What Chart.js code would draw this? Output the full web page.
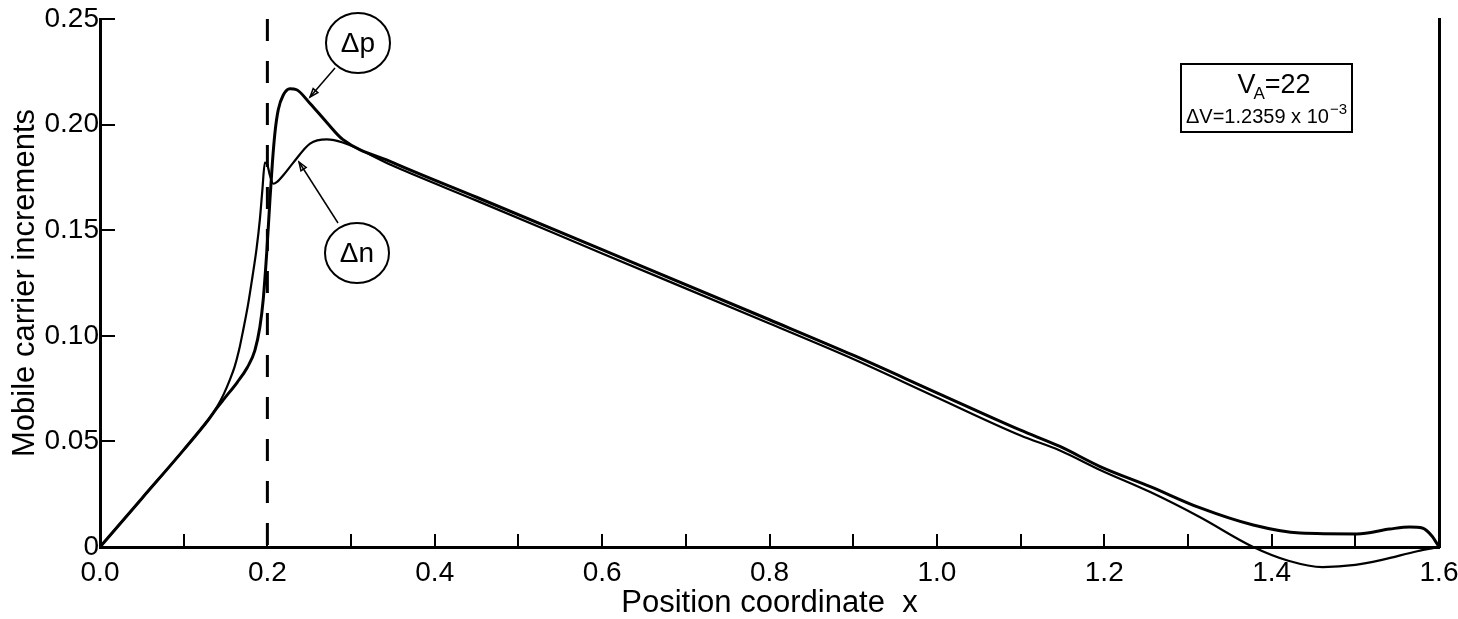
<!DOCTYPE html>
<html>
<head>
<meta charset="utf-8">
<script src="https://cdn.jsdelivr.net/npm/chart.js@4"></script>
<style>
  html, body { margin: 0; padding: 0; background: #fff; }
  #chart { display: block; }
</style>
</head>
<body>
<canvas id="chart" width="1458" height="619"></canvas>
<script>
// values
const xTickLabels = ['0.0', '0.2', '0.4', '0.6', '0.8', '1.0', '1.2', '1.4', '1.6'];
const yTickLabels = ['0', '0.05', '0.10', '0.15', '0.20', '0.25'];

// hole increment (the one with the higher peak)
const pX = [0, 0.05, 0.10, 0.13, 0.14, 0.149, 0.164, 0.176, 0.185, 0.191, 0.195, 0.1995, 0.203, 0.206, 0.209, 0.213, 0.219,
  0.227, 0.235, 0.251, 0.271, 0.29, 0.35, 0.45, 0.6, 0.8, 0.9, 1.0, 1.1, 1.147, 1.195, 1.255, 1.314,
  1.378, 1.434, 1.502, 1.541, 1.565, 1.58, 1.592, 1.6];
const pY = [0, 0.023, 0.046, 0.0605, 0.066, 0.0705, 0.078, 0.085, 0.093, 0.104, 0.117, 0.141, 0.164, 0.182, 0.196, 0.207, 0.214,
  0.217, 0.2165, 0.210, 0.201, 0.193, 0.182, 0.1656, 0.1408, 0.1076, 0.0908, 0.073, 0.0553, 0.0476, 0.0381, 0.0286, 0.0186,
  0.0104, 0.0066, 0.0062, 0.0085, 0.0095, 0.009, 0.005, 0];

// electron increment
const nX = [0, 0.05, 0.10, 0.13, 0.14, 0.148, 0.155, 0.161, 0.166, 0.171, 0.177, 0.182, 0.187, 0.191, 0.194, 0.197, 0.200,
  0.203, 0.207, 0.212, 0.219, 0.231, 0.251, 0.271, 0.29, 0.35, 0.45, 0.6, 0.8, 0.9, 1.0, 1.1, 1.147,
  1.195, 1.255, 1.314, 1.378, 1.42, 1.461, 1.5, 1.533, 1.574, 1.6];
const nY = [0, 0.023, 0.046, 0.0605, 0.0665, 0.0725, 0.079, 0.0855, 0.093, 0.1025, 0.115, 0.1275, 0.141, 0.155, 0.169, 0.182, 0.181,
  0.176, 0.172, 0.173, 0.176, 0.182, 0.191, 0.193, 0.1915, 0.1805, 0.164, 0.139, 0.1058, 0.089, 0.0708, 0.0528, 0.0457,
  0.0365, 0.026, 0.0142, 0, -0.0065, -0.0095, -0.0085, -0.006, -0.002, 0];

// junction position (dashed line)
const junctionX = 0.2;
const junctionY = [0.25, 0];

const VA = '22';
const dV = '1.2359';

const FONT = "'Liberation Sans', Arial, sans-serif";
Chart.defaults.font.family = FONT;
Chart.defaults.color = '#000';

const toPts = (xs, ys) => xs.map((v, i) => ({x: v, y: ys[i]}));

// circled labels, leader arrows and the parameter box
const notes = {
  id: 'notes',
  afterDraw(chart) {
    const ctx = chart.ctx;
    ctx.save();
    ctx.strokeStyle = '#000';
    ctx.fillStyle = '#000';
    ctx.lineWidth = 2;

    const bubble = (cx, cy, txt) => {
      ctx.beginPath();
      ctx.ellipse(cx, cy, 32, 30, 0, 0, Math.PI * 2);
      ctx.stroke();
      ctx.font = '28px ' + FONT;
      ctx.textAlign = 'center';
      ctx.textBaseline = 'middle';
      ctx.fillText(txt, cx, cy + 1);
    };
    const arrow = (x1, y1, x2, y2) => {
      ctx.lineWidth = 1.5;
      ctx.beginPath();
      ctx.moveTo(x1, y1);
      ctx.lineTo(x2, y2);
      ctx.stroke();
      const a = Math.atan2(y2 - y1, x2 - x1);
      ctx.beginPath();
      ctx.moveTo(x2, y2);
      ctx.lineTo(x2 - 9 * Math.cos(a - 0.35), y2 - 9 * Math.sin(a - 0.35));
      ctx.lineTo(x2 - 9 * Math.cos(a + 0.35), y2 - 9 * Math.sin(a + 0.35));
      ctx.closePath();
      ctx.stroke();
      ctx.lineWidth = 2;
    };

    bubble(358, 43, 'Δp');
    arrow(335, 68, 310, 97);
    bubble(357, 253, 'Δn');
    arrow(338, 223, 299, 162);

    // parameter box
    ctx.strokeRect(1181, 64, 171, 68);
    ctx.textAlign = 'left';
    ctx.textBaseline = 'alphabetic';
    ctx.font = '27px ' + FONT;
    const wV = ctx.measureText('V').width;
    ctx.font = '17px ' + FONT;
    const wA = ctx.measureText('A').width;
    ctx.font = '27px ' + FONT;
    const wR = ctx.measureText('=' + VA).width;
    let sx = 1275 - (wV + wA + wR) / 2;
    ctx.fillText('V', sx, 93);
    ctx.font = '17px ' + FONT;
    ctx.fillText('A', sx + wV - 2, 99);
    ctx.font = '27px ' + FONT;
    ctx.fillText('=' + VA, sx + wV + wA - 2, 93);

    ctx.font = '20px ' + FONT;
    const base = 'ΔV=' + dV + ' x 10';
    const wB = ctx.measureText(base).width;
    ctx.font = '15px ' + FONT;
    const wE = ctx.measureText('−3').width;
    sx = 1266 - (wB + wE) / 2;
    ctx.font = '20px ' + FONT;
    ctx.fillText(base, sx, 123);
    ctx.font = '15px ' + FONT;
    ctx.fillText('−3', sx + wB + 1, 114);
    ctx.restore();
  }
};

new Chart(document.getElementById('chart'), {
  type: 'line',
  data: {
    datasets: [
      {
        label: 'Δp',
        data: toPts(pX, pY),
        borderColor: '#000',
        borderWidth: 3,
        pointRadius: 0,
        cubicInterpolationMode: 'monotone',
        clip: false
      },
      {
        label: 'Δn',
        data: toPts(nX, nY),
        borderColor: '#000',
        borderWidth: 2.2,
        pointRadius: 0,
        cubicInterpolationMode: 'monotone',
        clip: false
      },
      {
        label: 'junction',
        data: junctionY.map(v => ({x: junctionX, y: v})),
        borderColor: '#000',
        borderWidth: 3,
        borderDash: [22, 20],
        pointRadius: 0,
        tension: 0
      }
    ]
  },
  options: {
    responsive: false,
    animation: false,
    devicePixelRatio: 1,
    layout: { padding: { top: 19, left: 0, right: 0, bottom: 0 } },
    plugins: {
      legend: { display: false },
      tooltip: { enabled: false }
    },
    scales: {
      x: {
        type: 'linear',
        min: 0,
        max: 1.6,
        afterFit: s => {
          s.height = 72;
          s.paddingLeft = 0;
          s.paddingRight = 0;
        },
        border: { display: true, color: '#000', width: 3 },
        grid: { drawOnChartArea: false, drawTicks: true, tickLength: -13, color: '#000', lineWidth: 2 },
        ticks: {
          stepSize: 0.1,
          padding: 22,
          maxRotation: 0,
          autoSkip: false,
          font: { size: 28 },
          callback: v => {
            const k = Math.round(v * 10);
            return k % 2 === 0 ? xTickLabels[k / 2] : '';
          }
        },
        title: {
          display: true,
          text: 'Position coordinate  x',
          font: { size: 31, lineHeight: 1 },
          padding: { top: 0, bottom: 0 }
        }
      },
      y: {
        type: 'linear',
        min: 0,
        max: 0.25,
        afterFit: s => {
          s.width = 100;
          s.paddingTop = 0;
          s.paddingBottom = 0;
        },
        border: { display: true, color: '#000', width: 3 },
        grid: { drawOnChartArea: false, drawTicks: true, tickLength: -15, color: '#000', lineWidth: 2 },
        ticks: {
          stepSize: 0.05,
          padding: 16,
          font: { size: 28 },
          callback: v => yTickLabels[Math.round(v / 0.05)]
        },
        title: {
          display: true,
          text: 'Mobile carrier increments',
          font: { size: 31 },
          padding: { top: 7, bottom: 0 }
        }
      },
      y2: {
        type: 'linear',
        position: 'right',
        min: 0,
        max: 0.25,
        afterFit: s => {
          s.width = 19;
          s.paddingTop = 0;
          s.paddingBottom = 0;
        },
        border: { display: true, color: '#000', width: 3 },
        grid: { drawOnChartArea: false, drawTicks: false },
        ticks: { display: false }
      }
    }
  },
  plugins: [notes]
});
</script>
</body>
</html>
